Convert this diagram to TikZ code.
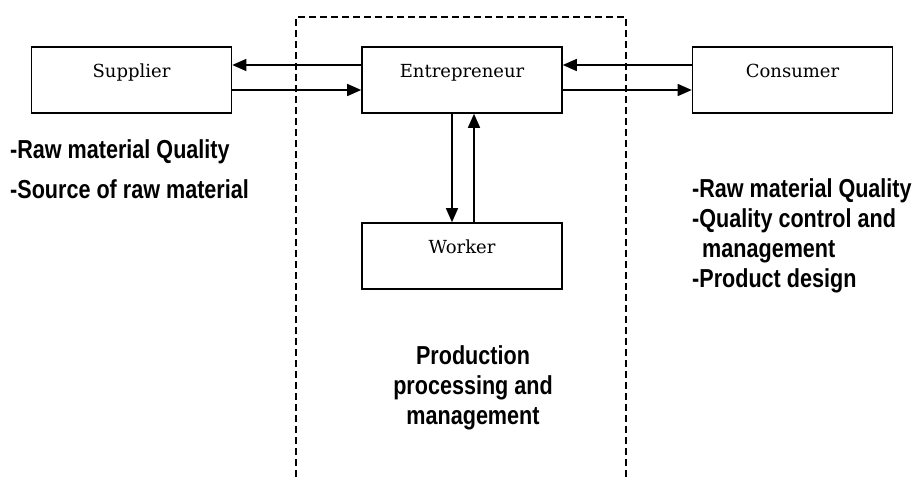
\documentclass[tikz,border=0pt]{standalone}
\usepackage{fontspec}
\usetikzlibrary{arrows.meta}
\newfontfamily\boxfont{DejaVu Serif}
\newfontfamily\notefont[FakeStretch=0.83]{Liberation Sans}

\begin{document}
\begin{tikzpicture}[x=1pt,y=-1pt,
  actor/.style={draw,line width=1.6pt,inner sep=0pt,minimum width=200pt,
    text height=30pt,text depth=36pt,font=\boxfont\fontsize{18}{20}\selectfont},
  note/.style={inner sep=0pt,font=\notefont\bfseries\fontsize{26}{30}\selectfont},
  flow/.style={line width=1.5pt,-{Triangle[length=14pt,width=12pt]}}]
\useasboundingbox (0,0) rectangle (923,477);

% production area
\draw[line width=1.5pt,dash pattern=on 7pt off 4pt] (296,477) |- (626,17) -- (626,477);

\node[actor] (sup) at (131.5,80) {Supplier};
\node[actor] (ent) at (462,80) {Entrepreneur};
\node[actor] (con) at (792.5,80) {Consumer};
\node[actor] (wor) at (462,256) {Worker};

\draw[flow] ([yshift=15pt]ent.west) -- ([yshift=15pt]sup.east);
\draw[flow] ([yshift=-10pt]sup.east) -- ([yshift=-10pt]ent.west);
\draw[flow] ([yshift=15pt]con.west) -- ([yshift=15pt]ent.east);
\draw[flow] ([yshift=-10pt]ent.east) -- ([yshift=-10pt]con.west);
\draw[flow] ([xshift=-10pt]ent.south) -- ([xshift=-10pt]wor.north);
\draw[flow] ([xshift=12pt]wor.north) -- ([xshift=12pt]ent.south);

\node[note,align=left,anchor=north west] (supnote) at (10,139)
  {-Raw material Quality\\[10pt]-Source of raw material};
\node[note,align=left,anchor=north west] (connote) at (692,178)
  {-Raw material Quality\\-Quality control and\\\hspace*{10pt}management\\-Product design};
\node[note,align=center,anchor=north] (prodnote) at (473,345)
  {Production\\processing and\\management};
\end{tikzpicture}
\end{document}
